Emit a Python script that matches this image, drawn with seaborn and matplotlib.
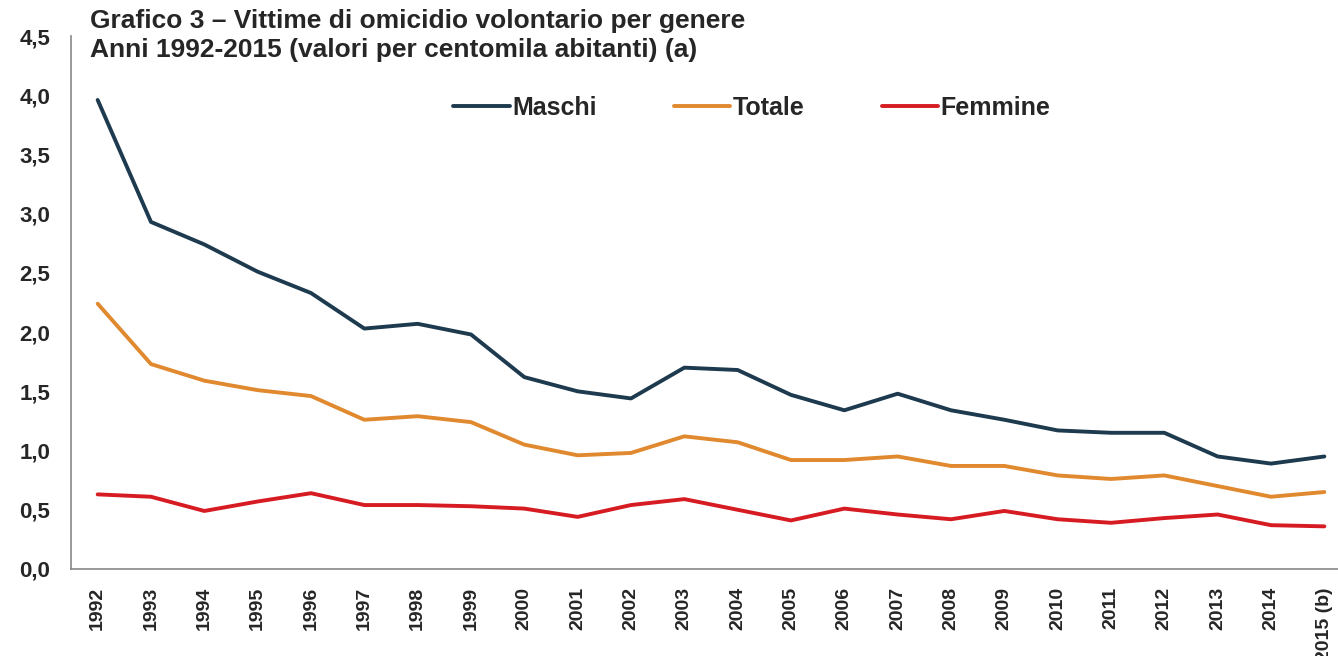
import pandas as pd
import numpy as np
import matplotlib
matplotlib.use("Agg")
import matplotlib.pyplot as plt
import seaborn as sns
from matplotlib.ticker import FixedLocator, FuncFormatter

anni = ["1992", "1993", "1994", "1995", "1996", "1997", "1998", "1999",
        "2000", "2001", "2002", "2003", "2004", "2005", "2006", "2007",
        "2008", "2009", "2010", "2011", "2012", "2013", "2014", "2015 (b)"]
maschi = [3.96, 2.93, 2.74, 2.51, 2.33, 2.03, 2.07, 1.98, 1.62, 1.50, 1.44, 1.70,
          1.68, 1.47, 1.34, 1.48, 1.34, 1.26, 1.17, 1.15, 1.15, 0.95, 0.89, 0.95]
totale = [2.24, 1.73, 1.59, 1.51, 1.46, 1.26, 1.29, 1.24, 1.05, 0.96, 0.98, 1.12,
          1.07, 0.92, 0.92, 0.95, 0.87, 0.87, 0.79, 0.76, 0.79, 0.70, 0.61, 0.65]
femmine = [0.63, 0.61, 0.49, 0.57, 0.64, 0.54, 0.54, 0.53, 0.51, 0.44, 0.54, 0.59,
           0.50, 0.41, 0.51, 0.46, 0.42, 0.49, 0.42, 0.39, 0.43, 0.46, 0.37, 0.36]

df = pd.DataFrame({"pos": range(len(anni)), "Maschi": maschi,
                   "Totale": totale, "Femmine": femmine})
long = df.melt(id_vars="pos", var_name="serie", value_name="valore")

sns.set_style("white")
plt.rcParams["font.family"] = ["Liberation Sans Narrow", "Liberation Sans", "DejaVu Sans"]
plt.rcParams["font.weight"] = "bold"

colori = {"Maschi": "#1d3a4e", "Totale": "#e0892f", "Femmine": "#d61c22"}

fig = plt.figure(figsize=(13.38, 6.56), dpi=100)
ax = fig.add_axes([71 / 1338, 87 / 656, 1280 / 1338, 533 / 656])
sns.lineplot(data=long, x="pos", y="valore", hue="serie", palette=colori,
             linewidth=2.8, ax=ax)

ax.set_xlim(-0.5, len(anni) - 0.5)
ax.set_ylim(0, 4.5)
ax.set_xlabel("")
ax.set_ylabel("")

ax.yaxis.set_major_locator(FixedLocator(np.arange(0, 4.51, 0.5)))
ax.yaxis.set_major_formatter(FuncFormatter(lambda v, p: f"{v:.1f}".replace(".", ",")))
ax.tick_params(axis="y", direction="out", length=7, width=1, color="#888888",
               labelsize=16, pad=8)

ax.set_xticks(range(len(anni)))
ax.set_xticklabels(anni, rotation=90, fontsize=14, va="top")
ax.set_xticks(np.arange(-0.5, len(anni), 1), minor=True)
ax.tick_params(axis="x", which="major", length=0, pad=13)
ax.tick_params(axis="x", which="minor", direction="out", length=12, width=1,
               color="#888888")

for s in ["top", "right"]:
    ax.spines[s].set_visible(False)
for s in ["left", "bottom"]:
    ax.spines[s].set_color("#888888")
    ax.spines[s].set_linewidth(1.2)

ax.legend(loc="upper center", bbox_to_anchor=(0.532, 0.93), ncol=3, frameon=False,
          fontsize=18, handlelength=2.25, handletextpad=0.1, columnspacing=3.1)

fig.text(90 / 1338, 1 - 9 / 656,
         "Grafico 3 – Vittime di omicidio volontario per genere\n"
         "Anni 1992-2015 (valori per centomila abitanti) (a)",
         ha="left", va="top", fontsize=19, fontweight="bold", linespacing=1.25)

fig.savefig("out.png", dpi=100)
